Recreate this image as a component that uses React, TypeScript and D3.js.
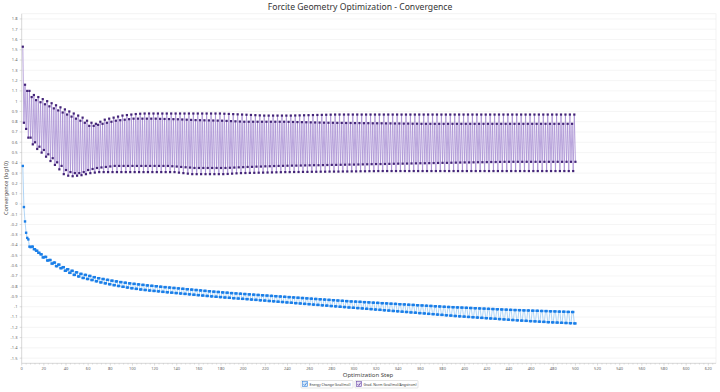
import * as React from 'react';
import * as d3 from 'd3';

const dimensions = { width: 720, height: 392 };
const plot = { left: 21.7, right: 716, top: 13.8, bottom: 363.3 };

const title = 'Forcite Geometry Optimization - Convergence';
const xLabel = 'Optimization Step';
const yLabel = 'Convergence (log10)';
const seriesNames = ['Energy Change (kcal/mol)', 'Grad. Norm (kcal/mol/Angstrom)'];

const xTicks = d3.range(0, 621, 20);
const yTicks = d3.range(-15, 19).map((i) => i / 10);

// grad. norm, one value per 4-step cycle: high A, low A, high B, low B
const gradHighA = [
  1.53, 1.1, 1.04, 1.01, 0.99, 0.97, 0.95, 0.93, 0.91, 0.89,
  0.87, 0.85, 0.83, 0.81, 0.79, 0.76, 0.76, 0.77, 0.78, 0.79,
  0.8, 0.81, 0.815, 0.82, 0.825, 0.83, 0.83, 0.83, 0.83, 0.83,
  0.83, 0.828, 0.827, 0.826, 0.825, 0.824, 0.822, 0.82, 0.818, 0.816,
  0.815, 0.814, 0.813, 0.812, 0.811, 0.81, 0.808, 0.806, 0.804, 0.802,
  0.8, 0.8, 0.8, 0.8, 0.8, 0.8, 0.8, 0.8, 0.8, 0.8,
  0.799, 0.798, 0.797, 0.796, 0.795, 0.794, 0.793, 0.792, 0.791, 0.79,
  0.79, 0.789, 0.789, 0.788, 0.788, 0.787, 0.787, 0.786, 0.786, 0.785,
  0.785, 0.785, 0.784, 0.784, 0.783, 0.783, 0.782, 0.782, 0.781, 0.781,
  0.78, 0.78, 0.78, 0.78, 0.78, 0.78, 0.78, 0.78, 0.78, 0.78,
  0.78, 0.78, 0.78, 0.78, 0.78, 0.78, 0.78, 0.78, 0.78, 0.78,
  0.78, 0.78, 0.78, 0.78, 0.78, 0.78, 0.78, 0.78, 0.78, 0.78,
  0.78, 0.78, 0.78, 0.78, 0.78,
];
const gradLowA = [
  0.79, 0.645, 0.58, 0.535, 0.5, 0.46, 0.418, 0.38, 0.337, 0.29,
  0.275, 0.27, 0.275, 0.28, 0.29, 0.3, 0.305, 0.31, 0.31, 0.31,
  0.31, 0.31, 0.31, 0.31, 0.31, 0.31, 0.31, 0.31, 0.31, 0.31,
  0.31, 0.31, 0.31, 0.31, 0.31, 0.305, 0.3, 0.295, 0.29, 0.29,
  0.29, 0.29, 0.29, 0.29, 0.29, 0.29, 0.292, 0.295, 0.298, 0.3,
  0.301, 0.302, 0.303, 0.304, 0.305, 0.306, 0.307, 0.308, 0.309, 0.31,
  0.31, 0.311, 0.311, 0.312, 0.312, 0.313, 0.313, 0.314, 0.314, 0.315,
  0.315, 0.315, 0.316, 0.316, 0.317, 0.317, 0.318, 0.318, 0.319, 0.319,
  0.32, 0.32, 0.32, 0.32, 0.32, 0.32, 0.32, 0.32, 0.32, 0.32,
  0.32, 0.32, 0.32, 0.32, 0.32, 0.32, 0.32, 0.32, 0.32, 0.32,
  0.32, 0.32, 0.32, 0.32, 0.32, 0.32, 0.32, 0.32, 0.32, 0.32,
  0.32, 0.32, 0.32, 0.32, 0.32, 0.32, 0.32, 0.32, 0.32, 0.32,
  0.32, 0.32, 0.32, 0.32, 0.32,
];
const gradHighB = [
  1.16, 1.1, 1.06, 1.04, 1.02, 1.0, 0.98, 0.96, 0.94, 0.92,
  0.9, 0.88, 0.86, 0.84, 0.81, 0.79, 0.78, 0.8, 0.82, 0.83,
  0.84, 0.85, 0.86, 0.865, 0.87, 0.875, 0.878, 0.88, 0.88, 0.88,
  0.88, 0.88, 0.88, 0.88, 0.88, 0.88, 0.88, 0.88, 0.88, 0.88,
  0.88, 0.88, 0.88, 0.88, 0.88, 0.878, 0.876, 0.874, 0.872, 0.87,
  0.868, 0.866, 0.864, 0.862, 0.86, 0.86, 0.86, 0.86, 0.86, 0.86,
  0.86, 0.861, 0.862, 0.863, 0.864, 0.865, 0.866, 0.867, 0.868, 0.869,
  0.87, 0.87, 0.87, 0.87, 0.87, 0.87, 0.87, 0.87, 0.87, 0.87,
  0.87, 0.87, 0.87, 0.87, 0.87, 0.87, 0.87, 0.87, 0.87, 0.87,
  0.87, 0.87, 0.87, 0.87, 0.87, 0.87, 0.87, 0.87, 0.87, 0.87,
  0.87, 0.87, 0.87, 0.87, 0.87, 0.87, 0.87, 0.87, 0.87, 0.87,
  0.87, 0.87, 0.87, 0.87, 0.87, 0.87, 0.87, 0.87, 0.87, 0.87,
  0.87, 0.87, 0.87, 0.87, 0.87,
];
const gradLowB = [
  0.73, 0.645, 0.6, 0.557, 0.525, 0.483, 0.445, 0.405, 0.37, 0.33,
  0.31, 0.3, 0.3, 0.31, 0.33, 0.34, 0.35, 0.355, 0.36, 0.365,
  0.37, 0.37, 0.37, 0.37, 0.37, 0.37, 0.37, 0.37, 0.37, 0.37,
  0.37, 0.37, 0.37, 0.367, 0.364, 0.36, 0.357, 0.354, 0.35, 0.35,
  0.35, 0.35, 0.35, 0.35, 0.35, 0.35, 0.352, 0.354, 0.356, 0.358,
  0.36, 0.361, 0.363, 0.364, 0.366, 0.367, 0.369, 0.37, 0.371, 0.372,
  0.373, 0.373, 0.374, 0.375, 0.376, 0.377, 0.377, 0.378, 0.379, 0.38,
  0.38, 0.381, 0.382, 0.383, 0.383, 0.384, 0.385, 0.386, 0.387, 0.388,
  0.388, 0.389, 0.39, 0.391, 0.392, 0.392, 0.393, 0.394, 0.395, 0.396,
  0.396, 0.397, 0.398, 0.399, 0.4, 0.4, 0.401, 0.402, 0.403, 0.404,
  0.404, 0.405, 0.406, 0.406, 0.407, 0.408, 0.408, 0.409, 0.41, 0.41,
  0.41, 0.41, 0.41, 0.41, 0.41, 0.41, 0.41, 0.41, 0.41, 0.41,
  0.41, 0.41, 0.41, 0.41, 0.41,
];

// energy change: first steps, then one upper and one lower value per 4-step cycle from step 9
const energyHead = [0.37, -0.03, -0.17, -0.28, -0.33, -0.345, -0.415, -0.42];
const energyUpper = [
  -0.415, -0.455, -0.49, -0.515, -0.545, -0.57, -0.59, -0.615, -0.635, -0.65,
  -0.665, -0.68, -0.69, -0.7, -0.712, -0.722, -0.73, -0.738, -0.746, -0.753,
  -0.76, -0.766, -0.772, -0.777, -0.782, -0.787, -0.792, -0.796, -0.8, -0.805,
  -0.809, -0.813, -0.817, -0.821, -0.825, -0.829, -0.833, -0.837, -0.841, -0.845,
  -0.849, -0.853, -0.856, -0.86, -0.863, -0.867, -0.87, -0.873, -0.876, -0.879,
  -0.882, -0.885, -0.888, -0.891, -0.894, -0.897, -0.9, -0.903, -0.906, -0.909,
  -0.912, -0.915, -0.918, -0.921, -0.924, -0.927, -0.93, -0.933, -0.936, -0.939,
  -0.942, -0.945, -0.948, -0.95, -0.952, -0.955, -0.957, -0.96, -0.962, -0.965,
  -0.967, -0.97, -0.972, -0.975, -0.977, -0.98, -0.982, -0.985, -0.987, -0.99,
  -0.992, -0.995, -0.997, -1.0, -1.002, -1.004, -1.006, -1.008, -1.01, -1.012,
  -1.014, -1.016, -1.018, -1.02, -1.022, -1.024, -1.026, -1.028, -1.03, -1.032,
  -1.033, -1.035, -1.036, -1.038, -1.039, -1.041, -1.042, -1.044, -1.045, -1.047,
  -1.048, -1.05, -1.051,
];
const energyLower = [
  -0.44, -0.475, -0.52, -0.55, -0.58, -0.605, -0.625, -0.65, -0.67, -0.69,
  -0.705, -0.72, -0.73, -0.74, -0.752, -0.763, -0.772, -0.781, -0.79, -0.798,
  -0.806, -0.813, -0.82, -0.826, -0.832, -0.837, -0.842, -0.846, -0.85, -0.855,
  -0.859, -0.863, -0.867, -0.871, -0.875, -0.879, -0.883, -0.887, -0.891, -0.895,
  -0.899, -0.903, -0.906, -0.91, -0.913, -0.917, -0.92, -0.923, -0.926, -0.93,
  -0.933, -0.937, -0.94, -0.944, -0.947, -0.951, -0.954, -0.958, -0.961, -0.965,
  -0.968, -0.972, -0.975, -0.979, -0.982, -0.986, -0.989, -0.993, -0.996, -1.0,
  -1.003, -1.007, -1.01, -1.013, -1.016, -1.02, -1.023, -1.027, -1.03, -1.034,
  -1.037, -1.041, -1.044, -1.048, -1.051, -1.055, -1.058, -1.062, -1.065, -1.069,
  -1.072, -1.076, -1.079, -1.083, -1.086, -1.09, -1.093, -1.096, -1.099, -1.102,
  -1.105, -1.108, -1.111, -1.114, -1.117, -1.12, -1.123, -1.126, -1.129, -1.132,
  -1.135, -1.137, -1.14, -1.142, -1.145, -1.147, -1.15, -1.152, -1.154, -1.156,
  -1.158, -1.16, -1.162,
];

interface Pt {
  step: number;
  v: number;
}

const gradData: Pt[] = gradHighA.flatMap((_, k) => [
  { step: 4 * k + 1, v: gradHighA[k] },
  { step: 4 * k + 2, v: gradLowA[k] },
  { step: 4 * k + 3, v: gradHighB[k] },
  { step: 4 * k + 4, v: gradLowB[k] },
]);

const energyData: Pt[] = [
  ...energyHead.map((v, i) => ({ step: i + 1, v })),
  ...energyUpper.flatMap((_, k) => [
    { step: 9 + 4 * k, v: energyUpper[k] },
    { step: 10 + 4 * k, v: energyUpper[k] },
    { step: 11 + 4 * k, v: energyLower[k] },
    { step: 12 + 4 * k, v: energyLower[k] },
  ]),
];

const colors = {
  energyLine: '#9ccaf4',
  energyDot: '#1b7fe8',
  gradLine: '#a88fd3',
  gradDot: '#432478',
};

const fmt = (v: number) => {
  const r = Math.round(v * 10) / 10;
  return r === 0 ? '0' : String(r);
};

const font = '"Noto Sans", "DejaVu Sans", sans-serif';

const App: React.FC = () => {
  const x = d3.scaleLinear([0, 620], [21.7, 708.3]);
  const y = d3.scaleLinear([-1.55, 1.85], [plot.bottom, plot.top]);

  const line = d3
    .line<Pt>()
    .x((d) => x(d.step))
    .y((d) => y(d.v));

  const minorX = d3.range(0, 628, 4);

  return (
    <svg
      width={dimensions.width}
      height={dimensions.height}
      viewBox={`0 0 ${dimensions.width} ${dimensions.height}`}
      style={{ position: 'fixed', left: 0, top: 0, background: '#fff' }}
      fontFamily={font}
    >
      <rect width={dimensions.width} height={dimensions.height} fill="#fff" />
      <text x={360} y={10} textAnchor="middle" fontSize={8.6} fill="#333">
        {title}
      </text>

      {/* plot frame and grid */}
      <rect
        x={plot.left}
        y={plot.top}
        width={plot.right - plot.left}
        height={plot.bottom - plot.top}
        fill="none"
        stroke="#ececec"
        strokeWidth={0.6}
      />
      <g>
        {yTicks.map((t) => (
          <line
            key={t}
            x1={plot.left}
            x2={plot.right}
            y1={y(t)}
            y2={y(t)}
            stroke="#efefef"
            strokeWidth={0.6}
          />
        ))}
      </g>

      {/* axes */}
      <line x1={plot.left} x2={plot.left} y1={plot.top} y2={plot.bottom} stroke="#cfcfcf" strokeWidth={0.7} />
      <line x1={plot.left} x2={plot.right} y1={plot.bottom} y2={plot.bottom} stroke="#cfcfcf" strokeWidth={0.7} />
      <g>
        {yTicks.map((t) => (
          <g key={t}>
            <line x1={plot.left - 2} x2={plot.left} y1={y(t)} y2={y(t)} stroke="#bbb" strokeWidth={0.5} />
            <text x={17.5} y={y(t) + 1.4} textAnchor="end" fontSize={4} fill="#666">
              {fmt(t)}
            </text>
          </g>
        ))}
      </g>
      <g>
        {minorX.map((t) => (
          <line
            key={t}
            x1={x(t)}
            x2={x(t)}
            y1={plot.bottom}
            y2={plot.bottom + (t % 20 === 0 ? 2.2 : 1.2)}
            stroke="#bbb"
            strokeWidth={0.5}
          />
        ))}
        {xTicks.map((t) => (
          <text key={t} x={x(t)} y={369.5} textAnchor="middle" fontSize={4} fill="#666">
            {t}
          </text>
        ))}
      </g>
      <text x={368} y={377} textAnchor="middle" fontSize={6} fill="#444">
        {xLabel}
      </text>
      <text
        transform={`translate(7.5, 188) rotate(-90)`}
        textAnchor="middle"
        fontSize={5.6}
        fill="#444"
      >
        {yLabel}
      </text>

      {/* grad norm series */}
      <path d={line(gradData) ?? ''} fill="none" stroke={colors.gradLine} strokeWidth={0.8} />
      <g fill={colors.gradDot}>
        {gradData.map((d) => (
          <rect key={d.step} x={x(d.step) - 1.1} y={y(d.v) - 1.1} width={2.2} height={2.2} />
        ))}
      </g>

      {/* energy change series */}
      <path d={line(energyData) ?? ''} fill="none" stroke={colors.energyLine} strokeWidth={0.8} />
      <g fill={colors.energyDot}>
        {energyData.map((d) => (
          <rect key={d.step} x={x(d.step) - 1.2} y={y(d.v) - 1.2} width={2.4} height={2.4} />
        ))}
      </g>

      {/* legend */}
      <g>
        <rect x={301} y={380.5} width={52} height={7.5} fill="#fff" stroke="#c9c9c9" strokeWidth={0.5} rx={0.8} />
        <rect x={302.5} y={381.6} width={5} height={5} fill="#d6e8fa" stroke="#3a86dc" strokeWidth={0.6} />
        <path d="M303.5,384.2 L304.8,385.5 L306.8,382.6" fill="none" stroke="#1f6fd0" strokeWidth={0.7} />
        <text x={309.5} y={385.7} fontSize={3.6} fill="#333" textLength={41} lengthAdjust="spacingAndGlyphs">
          {seriesNames[0]}
        </text>
        <rect x={355} y={380.5} width={63} height={7.5} fill="#fff" stroke="#c9c9c9" strokeWidth={0.5} rx={0.8} />
        <rect x={356.5} y={381.6} width={5} height={5} fill="#e6ddf4" stroke="#6a49a8" strokeWidth={0.6} />
        <path d="M357.5,384.2 L358.8,385.5 L360.8,382.6" fill="none" stroke="#4b2a8a" strokeWidth={0.7} />
        <text x={363.5} y={385.7} fontSize={3.6} fill="#333" textLength={53} lengthAdjust="spacingAndGlyphs">
          {seriesNames[1]}
        </text>
      </g>
    </svg>
  );
};

export default App;
